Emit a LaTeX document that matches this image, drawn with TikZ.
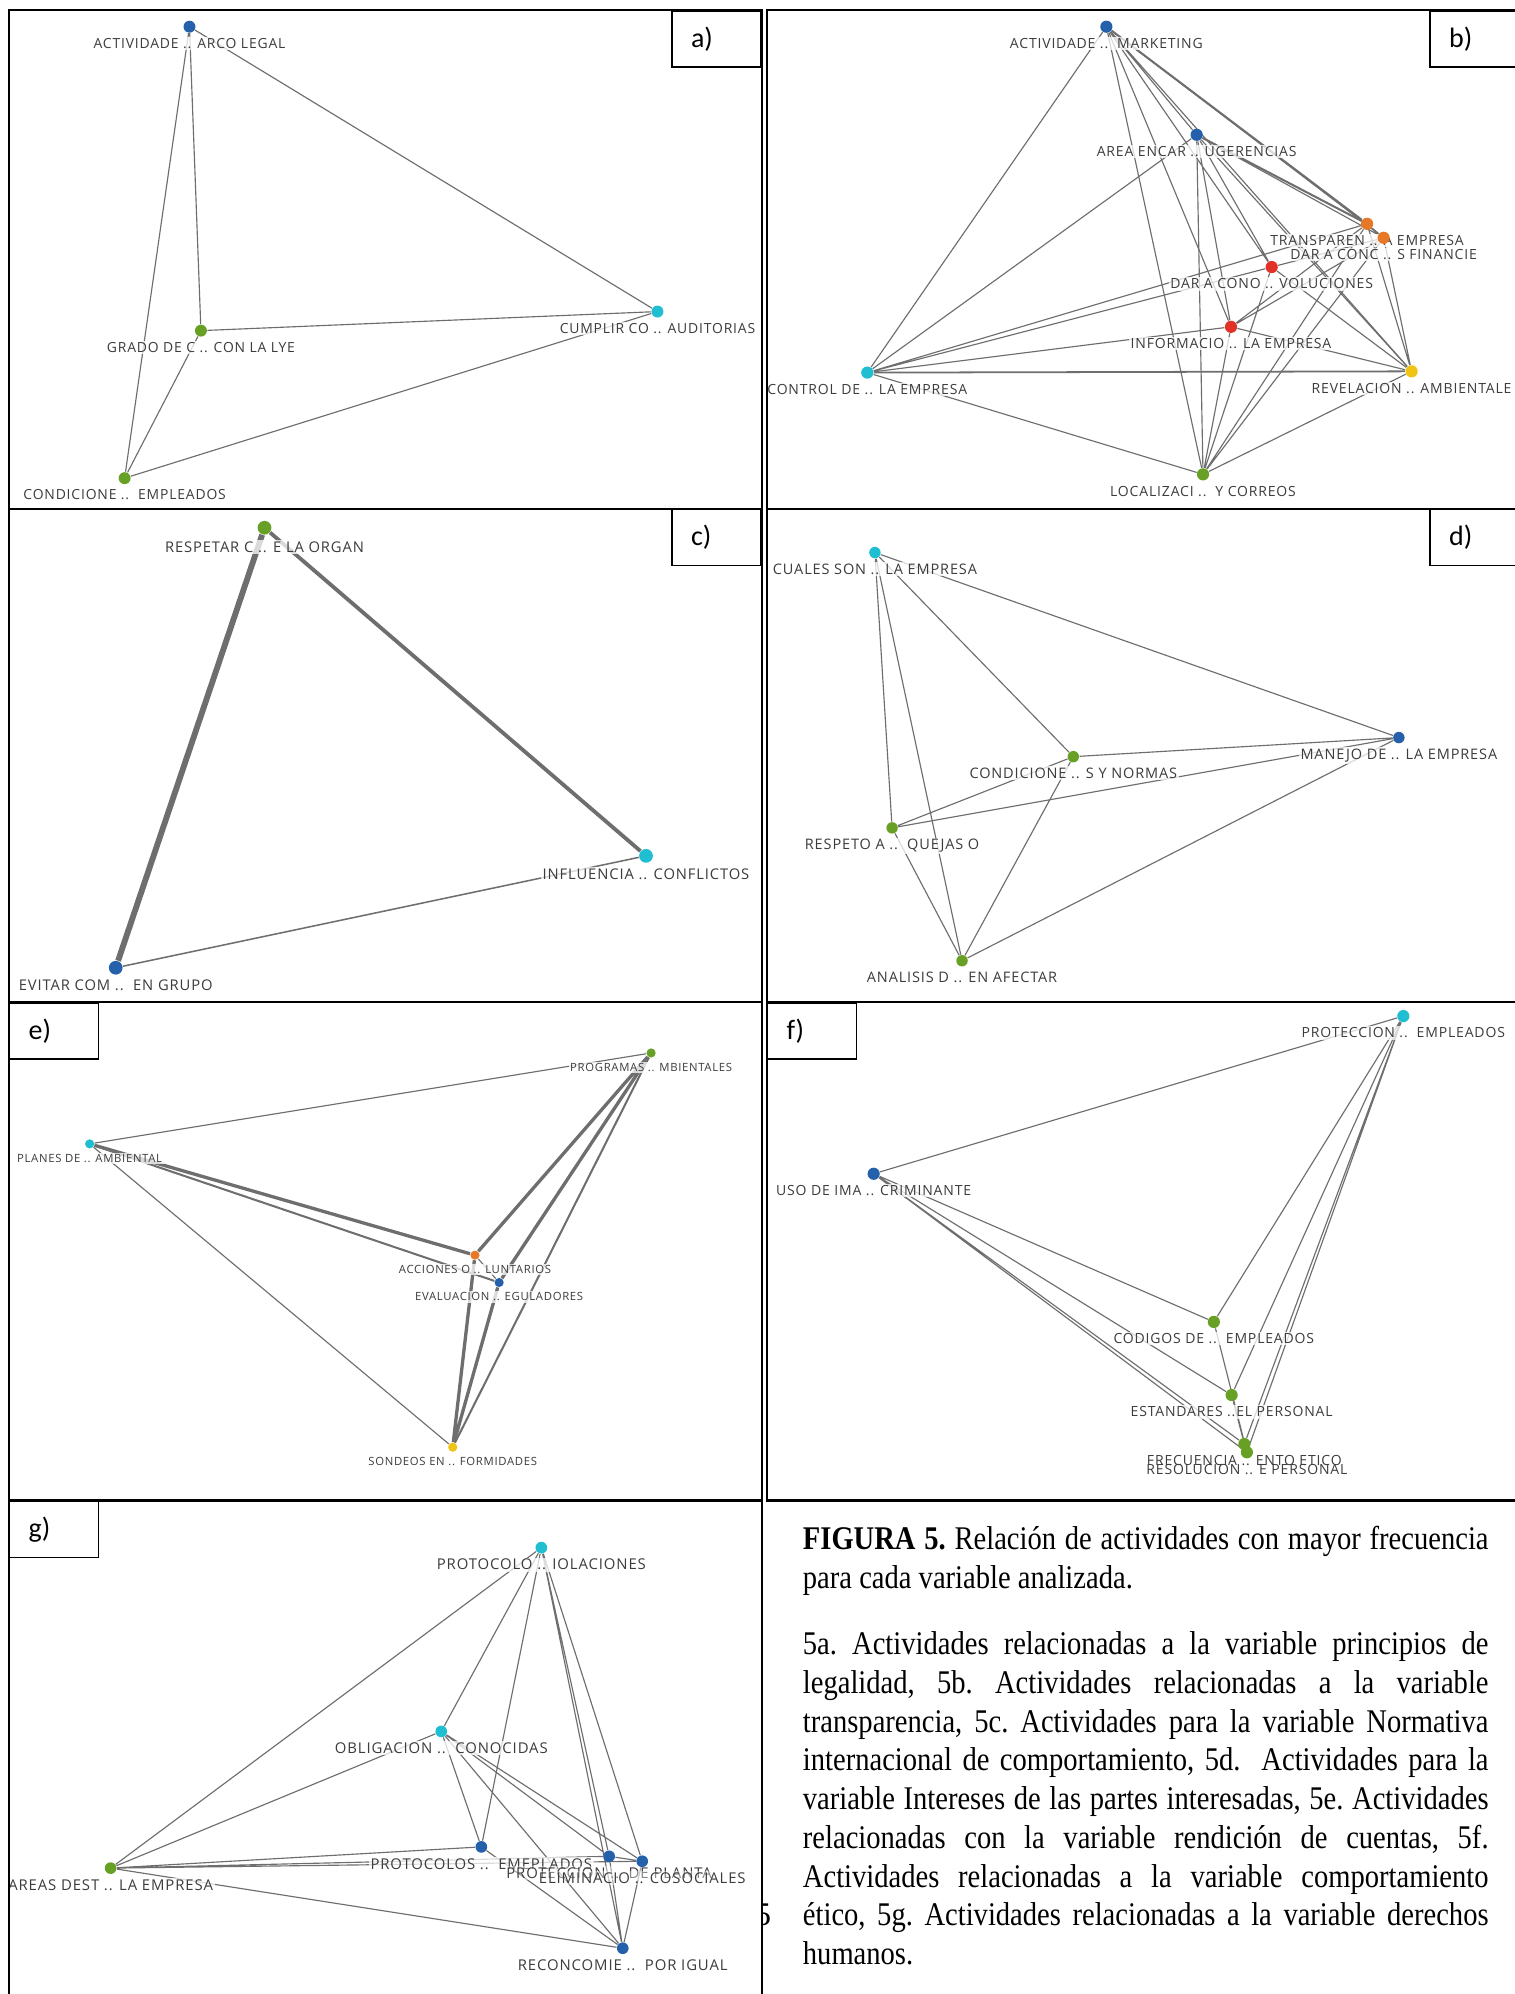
\documentclass[tikz,border=0pt]{standalone}
\usepackage{fontspec}
\usepackage{tikz}
\usetikzlibrary{positioning}
\pgfdeclarelayer{front}
\pgfsetlayers{main,front}
\newfontfamily\lblfont{Open Sans}[LetterSpace=6]
\newfontfamily\tagfont{Carlito}
\newfontfamily\capfont{Liberation Serif}
\definecolor{pbblue}{RGB}{37,97,171}
\definecolor{pbgreen}{RGB}{104,160,38}
\definecolor{pbcyan}{RGB}{31,190,209}
\definecolor{pborange}{RGB}{230,120,40}
\definecolor{pbred}{RGB}{225,50,40}
\definecolor{pbyellow}{RGB}{240,196,20}
\definecolor{lnkgray}{RGB}{110,110,110}
\definecolor{lbltext}{RGB}{60,60,60}

\begin{document}
\begin{tikzpicture}[x=0.5pt,y=-0.5pt,
  dot/.style={circle,fill=#1,inner sep=0pt,minimum size=\dotsize},
  lnk/.style={draw=lnkgray,line width=0.45pt},
  lbl/.style={font=\lblfont\fontsize{\lblsize}{\lblsize}\selectfont,text=lbltext,fill=white,fill opacity=0.75,text opacity=1,inner sep=0.6pt},
  panel/.style={draw=black,line width=0.9pt},
  tagbox/.style={draw=black,fill=white,line width=0.6pt,inner xsep=7.5pt,inner ysep=0pt,text width=20pt,minimum height=22pt,align=left,font=\tagfont\fontsize{11}{11}\selectfont}]
\def\lblsep{1.2pt}
\useasboundingbox (0,0) rectangle (1191,1568);
\fill[white] (0,0) rectangle (1191,1568);

%page number, partly hidden
\begin{scope}
\clip (600.5,1480) rectangle (620,1530);
\node[anchor=base west,inner sep=0pt] (pagenum) at (593,1514.5) {\capfont\fontsize{13}{13}\selectfont 5};
\end{scope}

%caption
\node[anchor=base west,inner sep=0pt] (caption) at (631,1218.6) {\scalebox{0.864}[1]{\parbox[t]{312pt}{\capfont\fontsize{13}{15.25}\selectfont\frenchspacing
\textbf{FIGURA 5.} Relación de actividades con mayor frecuencia\linebreak
para cada variable analizada.\par\vspace{10.7pt}
5a. Actividades relacionadas a la variable principios de\linebreak
legalidad, 5b. Actividades relacionadas a la variable\linebreak
transparencia, 5c. Actividades para la variable Normativa\linebreak
internacional de comportamiento, 5d.\ \ Actividades para la\linebreak
variable Intereses de las partes interesadas, 5e. Actividades\linebreak
relacionadas con la variable rendición de cuentas, 5f.\linebreak
Actividades relacionadas a la variable comportamiento\linebreak
ético, 5g. Actividades relacionadas a la variable derechos\linebreak
humanos.}}};

%panel a
\begin{scope}
\clip (7,8) rectangle (599,400);
\def\lblsize{5.47}\def\dotsize{4.7pt}
\begin{pgfonlayer}{front}
\node[dot=pbblue] (actleg) at (149,21) {};
\node[dot=pbgreen] (grado) at (158,260) {};
\node[dot=pbcyan] (cumplir) at (517,245) {};
\node[dot=pbgreen] (condemp) at (98,376) {};
\end{pgfonlayer}
\draw[lnk] (actleg) -- (grado) (actleg) -- (condemp) (actleg) -- (cumplir)
  (grado) -- (cumplir) (grado) -- (condemp) (cumplir) -- (condemp);
\node[lbl,below=\lblsep of actleg] (actleg-t) {ACTIVIDADE .. ARCO LEGAL};
\node[lbl,below=\lblsep of grado] (grado-t) {GRADO DE C .. CON LA LYE};
\node[lbl,below=\lblsep of cumplir] (cumplir-t) {CUMPLIR CO .. AUDITORIAS};
\node[lbl,below=\lblsep of condemp] (condemp-t) {CONDICIONE ..\ \ EMPLEADOS};
\end{scope}
\draw[panel] (7,8) rectangle (599,400);
\node[tagbox,anchor=north east] (taga) at (599,8) {a)};

%panel b
\begin{scope}
\clip (603,8) rectangle (1200,400);
\def\lblsize{5.5}\def\dotsize{4.8pt}
\begin{pgfonlayer}{front}
\node[dot=pbblue] (actmkt) at (870,21) {};
\node[dot=pbblue] (area) at (941,106) {};
\node[dot=pbcyan] (control) at (682,293) {};
\node[dot=pbyellow] (revel) at (1110,292) {};
\node[dot=pbgreen] (localiz) at (946,373) {};
\node[dot=pbred] (informa) at (968,257) {};
\node[dot=pbred] (darcono) at (1000,210) {};
\node[dot=pborange] (transp) at (1075,176) {};
\node[dot=pborange] (darconc) at (1088,187) {};
\end{pgfonlayer}
\draw[lnk] (actmkt) -- (control) (actmkt) -- (area) (actmkt) -- (localiz)
  (actmkt) -- (revel);
\draw[lnk] (area) -- (control) (area) -- (localiz) (area) -- (revel);
\draw[lnk,line width=0.7pt] (control) -- (revel);
\draw[lnk] (control) -- (localiz) (revel) -- (localiz);
\draw[lnk] (actmkt) -- (informa) (actmkt) -- (darcono) (actmkt) -- (darconc)
  (area) -- (informa) (area) -- (darcono) (area) -- (darconc);
\draw[lnk,line width=0.8pt] (actmkt) -- (transp) (area) -- (transp);
\draw[lnk] (control) -- (transp) (control) -- (darcono) (control) -- (informa)
  (informa) -- (localiz) (informa) -- (darconc) (informa) -- (transp) (informa) -- (revel)
  (darcono) -- (localiz) (darcono) -- (revel) (darcono) -- (darconc)
  (transp) -- (localiz) (transp) -- (revel) (transp) -- (darconc)
  (darconc) -- (localiz) (darconc) -- (revel);
\node[lbl,below=\lblsep of actmkt] (actmkt-t) {ACTIVIDADE ..\ \ MARKETING};
\node[lbl,below=\lblsep of area] (area-t) {AREA ENCAR .. UGERENCIAS};
\node[lbl,below=\lblsep of transp] (transp-t) {TRANSPAREN .. A EMPRESA};
\node[lbl,below=\lblsep of darconc] (darconc-t) {DAR A CONC .. S FINANCIE};
\node[lbl,below=\lblsep of darcono] (darcono-t) {DAR A CONO .. VOLUCIONES};
\node[lbl,below=\lblsep of informa] (informa-t) {INFORMACIO .. LA EMPRESA};
\node[lbl,below=\lblsep of control] (control-t) {CONTROL DE .. LA EMPRESA};
\node[lbl,below=\lblsep of revel] (revel-t) {REVELACION .. AMBIENTALE};
\node[lbl,below=\lblsep of localiz] (localiz-t) {LOCALIZACI ..\ \ Y CORREOS};
\end{scope}
\draw[panel] (603,8) rectangle (1200,400);
\node[tagbox,anchor=north west] (tagb) at (1124,8) {b)};

%panel c
\begin{scope}
\clip (7,400) rectangle (599,788);
\def\lblsize{5.8}\def\dotsize{5.4pt}
\begin{pgfonlayer}{front}
\node[dot=pbgreen] (respetar) at (208,415) {};
\node[dot=pbcyan] (influ) at (508,673) {};
\node[dot=pbblue] (evitar) at (91,761) {};
\end{pgfonlayer}
\draw[lnk,line width=2.3pt] (respetar) -- (evitar);
\draw[lnk,line width=1.5pt] (respetar) -- (influ);
\draw[lnk,line width=0.6pt] (influ) -- (evitar);
\node[lbl,below=1.8pt of respetar] (respetar-t) {RESPETAR C .. E LA ORGAN};
\node[lbl,below=\lblsep of influ] (influ-t) {INFLUENCIA .. CONFLICTOS};
\node[lbl,below=\lblsep of evitar] (evitar-t) {EVITAR COM ..\ \ EN GRUPO};
\end{scope}
\draw[panel] (7,400) rectangle (599,788);
\node[tagbox,anchor=north east] (tagc) at (599,400) {c)};

%panel d
\begin{scope}
\clip (603,400) rectangle (1200,788);
\def\lblsize{5.7}\def\dotsize{4.5pt}
\begin{pgfonlayer}{front}
\node[dot=pbcyan] (cuales) at (688,434.5) {};
\node[dot=pbblue] (manejo) at (1100,580) {};
\node[dot=pbgreen] (condnorm) at (844,595) {};
\node[dot=pbgreen] (respeto) at (701.5,651) {};
\node[dot=pbgreen] (analisis) at (756.5,755.5) {};
\end{pgfonlayer}
\draw[lnk] (cuales) -- (manejo) (cuales) -- (condnorm) (cuales) -- (respeto) (cuales) -- (analisis)
  (condnorm) -- (manejo) (condnorm) -- (respeto) (condnorm) -- (analisis)
  (respeto) -- (manejo) (respeto) -- (analisis) (manejo) -- (analisis);
\node[lbl,below=\lblsep of cuales] (cuales-t) {CUALES SON .. LA EMPRESA};
\node[lbl,below=\lblsep of manejo] (manejo-t) {MANEJO DE .. LA EMPRESA};
\node[lbl,below=\lblsep of condnorm] (condnorm-t) {CONDICIONE .. S Y NORMAS};
\node[lbl,below=\lblsep of respeto] (respeto-t) {RESPETO A ..\ \ QUEJAS O};
\node[lbl,below=\lblsep of analisis] (analisis-t) {ANALISIS D .. EN AFECTAR};
\end{scope}
\draw[panel] (603,400) rectangle (1200,788);
\node[tagbox,anchor=north west] (tagd) at (1124,400) {d)};

%panel e
\begin{scope}
\clip (7,788) rectangle (599,1180);
\def\lblsize{4.45}\def\dotsize{3.6pt}
\begin{pgfonlayer}{front}
\node[dot=pbgreen] (program) at (512,828) {};
\node[dot=pbcyan] (planes) at (70.5,899.5) {};
\node[dot=pborange] (acciones) at (373.5,987) {};
\node[dot=pbblue] (evalua) at (392.5,1008.5) {};
\node[dot=pbyellow] (sondeos) at (356,1138) {};
\end{pgfonlayer}
\draw[lnk] (program) -- (planes) (planes) -- (sondeos) (acciones) -- (evalua);
\draw[lnk,line width=1.3pt] (planes) -- (acciones) (program) -- (acciones)
  (program) -- (evalua) (sondeos) -- (acciones) (sondeos) -- (evalua);
\draw[lnk,line width=0.8pt] (planes) -- (evalua) (program) -- (sondeos);
\node[lbl,below=\lblsep of program] (program-t) {PROGRAMAS .. MBIENTALES};
\node[lbl,below=\lblsep of planes] (planes-t) {PLANES DE .. AMBIENTAL};
\node[lbl,below=\lblsep of acciones] (acciones-t) {ACCIONES O .. LUNTARIOS};
\node[lbl,below=\lblsep of evalua] (evalua-t) {EVALUACION .. EGULADORES};
\node[lbl,below=\lblsep of sondeos] (sondeos-t) {SONDEOS EN .. FORMIDADES};
\end{scope}
\draw[panel] (7,788) rectangle (599,1180);
\node[tagbox,anchor=north west] (tage) at (7,788) {e)};

%panel f
\begin{scope}
\clip (603,788) rectangle (1200,1180);
\def\lblsize{5.5}\def\dotsize{4.8pt}
\begin{pgfonlayer}{front}
\node[dot=pbcyan] (protemp) at (1103.5,799) {};
\node[dot=pbblue] (uso) at (687,923) {};
\node[dot=pbgreen] (codigos) at (954.5,1039.5) {};
\node[dot=pbgreen] (estand) at (968.5,1097) {};
\node[dot=pbgreen] (frecu) at (978.5,1135.5) {};
\node[dot=pbgreen] (resol) at (980.5,1142) {};
\end{pgfonlayer}
\draw[lnk] (protemp) -- (uso) (protemp) -- (codigos) (protemp) -- (estand)
  (protemp) -- (frecu) (protemp) -- (resol)
  (uso) -- (codigos) (uso) -- (estand) (uso) -- (frecu) (uso) -- (resol)
  (codigos) -- (resol) (estand) -- (frecu);
\node[lbl,below=\lblsep of protemp] (protemp-t) {PROTECCION ..\ \ EMPLEADOS};
\node[lbl,below=\lblsep of uso] (uso-t) {USO DE IMA .. CRIMINANTE};
\node[lbl,below=\lblsep of codigos] (codigos-t) {CODIGOS DE ..\ \ EMPLEADOS};
\node[lbl,below=\lblsep of estand] (estand-t) {ESTANDARES ..EL PERSONAL};
\node[lbl,below=\lblsep of frecu] (frecu-t) {FRECUENCIA .. ENTO ETICO};
\node[lbl,fill opacity=0,below=\lblsep of resol] (resol-t) {RESOLUCION .. E PERSONAL};
\end{scope}
\draw[panel] (603,788) rectangle (1200,1180);
\node[tagbox,anchor=north west] (tagf) at (603,788) {f)};

%panel g
\begin{scope}
\clip (7,1180) rectangle (599,1575);
\def\lblsize{5.85}\def\dotsize{4.6pt}
\begin{pgfonlayer}{front}
\node[dot=pbcyan] (protviol) at (425.7,1217) {};
\node[dot=pbcyan] (oblig) at (347,1361.5) {};
\node[dot=pbblue] (protemep) at (378.5,1452.3) {};
\node[dot=pbblue] (protplan) at (479,1459.7) {};
\node[dot=pbblue] (elimin) at (505,1463.6) {};
\node[dot=pbgreen] (areas) at (87,1469) {};
\node[dot=pbblue] (reconoc) at (489.7,1532) {};
\end{pgfonlayer}
\draw[lnk] (protviol) -- (areas) (protviol) -- (oblig) (protviol) -- (protemep)
  (protviol) -- (protplan) (protviol) -- (elimin) (protviol) -- (reconoc)
  (oblig) -- (areas) (oblig) -- (protemep) (oblig) -- (reconoc)
  (oblig) -- (protplan) (oblig) -- (elimin)
  (areas) -- (protemep) (areas) -- (protplan) (areas) -- (elimin) (areas) -- (reconoc)
  (protemep) -- (reconoc) (protplan) -- (reconoc) (elimin) -- (reconoc) (protplan) -- (elimin);
\node[lbl,below=\lblsep of protviol] (protviol-t) {PROTOCOLO .. IOLACIONES};
\node[lbl,below=\lblsep of oblig] (oblig-t) {OBLIGACION ..\ \ CONOCIDAS};
\node[lbl,below=\lblsep of protemep] (protemep-t) {PROTOCOLOS ..\ \ EMEPLADOS};
\node[lbl,fill opacity=0.4,below=\lblsep of protplan] (protplan-t) {PROTECCION ..\ \ DE PLANTA};
\node[lbl,fill opacity=0.4,below=\lblsep of elimin] (elimin-t) {ELIMINACIO .. COSOCIALES};
\node[lbl,below=\lblsep of areas] (areas-t) {AREAS DEST .. LA EMPRESA};
\node[lbl,below=\lblsep of reconoc] (reconoc-t) {RECONCOMIE ..\ \ POR IGUAL};
\end{scope}
\draw[panel] (7,1180) rectangle (599,1575);
\node[tagbox,anchor=north west] (tagg) at (7,1180) {g)};

\end{tikzpicture}
\end{document}
